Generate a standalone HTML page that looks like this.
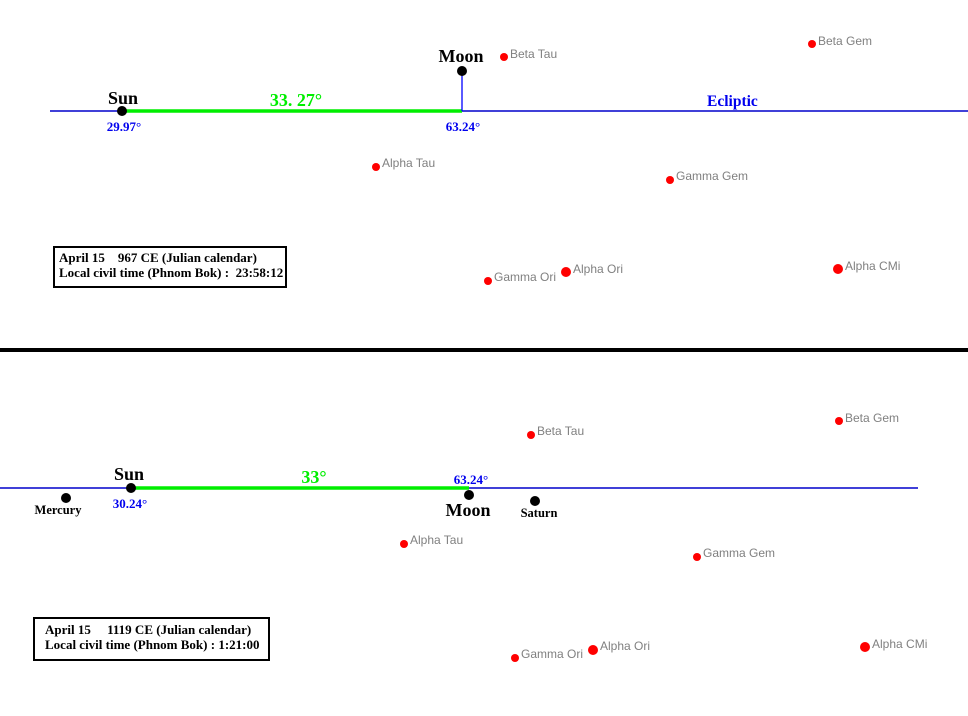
<!DOCTYPE html>
<html><head><meta charset="utf-8"><style>
html,body{margin:0;padding:0;background:#fff;}
svg{display:block;}
text{white-space:pre;}
.s{font-family:"Liberation Sans",Arial,sans-serif;font-size:12px;fill:#808080;}
.b{font-family:"Liberation Serif",serif;font-weight:bold;}
</style></head><body>
<svg width="968" height="716" viewBox="0 0 968 716" xmlns="http://www.w3.org/2000/svg" xml:space="preserve">
<line x1="50" y1="111" x2="968" y2="111" stroke="#0000cc" stroke-width="1.5"/>
<line x1="122" y1="111" x2="462" y2="111" stroke="#00ee00" stroke-width="3.5"/>
<line x1="462" y1="71" x2="462" y2="111" stroke="#0000ff" stroke-width="1.3"/>
<circle cx="122" cy="111" r="5" fill="#000"/>
<circle cx="462" cy="71" r="5" fill="#000"/>
<text class="b" x="123" y="104" font-size="18" text-anchor="middle">Sun</text>
<text class="b" x="461" y="62" font-size="18" text-anchor="middle">Moon</text>
<text class="b" x="296" y="106" font-size="18" fill="#00ee00" text-anchor="middle">33. 27°</text>
<text class="b" x="124" y="131" font-size="13" fill="#0000ee" text-anchor="middle">29.97°</text>
<text class="b" x="463" y="131" font-size="13" fill="#0000ee" text-anchor="middle">63.24°</text>
<text class="b" x="707" y="106" font-size="15.5" fill="#0000ee">Ecliptic</text>
<g fill="#ff0000">
<circle cx="504" cy="57" r="4"/><circle cx="812" cy="44" r="4"/><circle cx="376" cy="167" r="4"/>
<circle cx="670" cy="180" r="4"/><circle cx="488" cy="281" r="4"/><circle cx="566" cy="272" r="5"/><circle cx="838" cy="269" r="5"/>
</g>
<text class="s" x="510" y="58">Beta Tau</text>
<text class="s" x="818" y="45">Beta Gem</text>
<text class="s" x="382" y="167">Alpha Tau</text>
<text class="s" x="676" y="180">Gamma Gem</text>
<text class="s" x="494" y="281">Gamma Ori</text>
<text class="s" x="573" y="273">Alpha Ori</text>
<text class="s" x="845" y="270">Alpha CMi</text>
<rect x="54" y="247" width="232" height="40" fill="none" stroke="#000" stroke-width="2"/>
<text class="b" x="59" y="262" font-size="13">April 15    967 CE (Julian calendar)</text>
<text class="b" x="59" y="277" font-size="13">Local civil time (Phnom Bok) :  23:58:12</text>
<rect x="0" y="348" width="968" height="4" fill="#000"/>
<line x1="0" y1="488" x2="918" y2="488" stroke="#0000cc" stroke-width="1.5"/>
<line x1="131" y1="488" x2="469" y2="488" stroke="#00ee00" stroke-width="3.5"/>
<circle cx="131" cy="488" r="5" fill="#000"/>
<circle cx="469" cy="495" r="5" fill="#000"/>
<circle cx="66" cy="498" r="5" fill="#000"/>
<circle cx="535" cy="501" r="5" fill="#000"/>
<text class="b" x="129" y="480" font-size="18" text-anchor="middle">Sun</text>
<text class="b" x="314" y="483" font-size="18" fill="#00ee00" text-anchor="middle">33°</text>
<text class="b" x="471" y="484" font-size="13" fill="#0000ee" text-anchor="middle">63.24°</text>
<text class="b" x="130" y="508" font-size="13" fill="#0000ee" text-anchor="middle">30.24°</text>
<text class="b" x="468" y="516" font-size="18" text-anchor="middle">Moon</text>
<text class="b" x="58" y="514" font-size="12.5" text-anchor="middle">Mercury</text>
<text class="b" x="539" y="517" font-size="12.5" text-anchor="middle">Saturn</text>
<g fill="#ff0000">
<circle cx="531" cy="435" r="4"/><circle cx="839" cy="421" r="4"/><circle cx="404" cy="544" r="4"/>
<circle cx="697" cy="557" r="4"/><circle cx="515" cy="658" r="4"/><circle cx="593" cy="650" r="5"/><circle cx="865" cy="647" r="5"/>
</g>
<text class="s" x="537" y="435">Beta Tau</text>
<text class="s" x="845" y="422">Beta Gem</text>
<text class="s" x="410" y="544">Alpha Tau</text>
<text class="s" x="703" y="557">Gamma Gem</text>
<text class="s" x="521" y="658">Gamma Ori</text>
<text class="s" x="600" y="650">Alpha Ori</text>
<text class="s" x="872" y="648">Alpha CMi</text>
<rect x="34" y="618" width="235" height="42" fill="none" stroke="#000" stroke-width="2"/>
<text class="b" x="45" y="634" font-size="13">April 15     1119 CE (Julian calendar)</text>
<text class="b" x="45" y="649" font-size="13">Local civil time (Phnom Bok) : 1:21:00</text>
</svg>
</body></html>
